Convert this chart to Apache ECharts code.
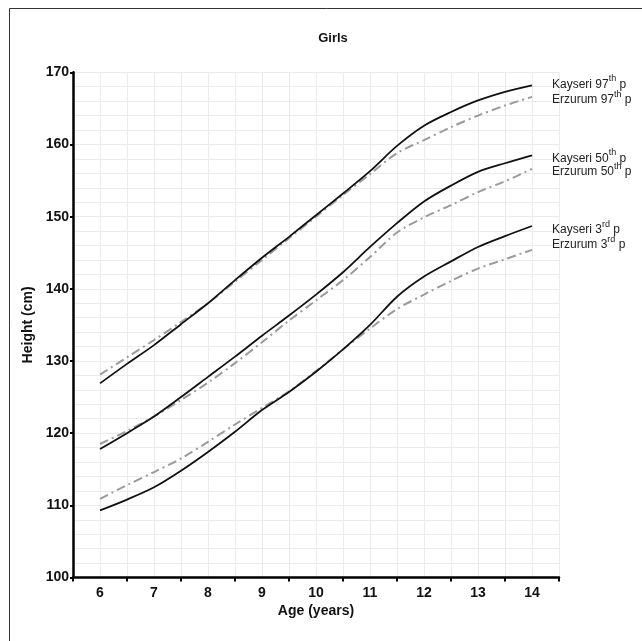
<!DOCTYPE html>
<html><head><meta charset="utf-8">
<script src="https://cdn.jsdelivr.net/npm/echarts@6/dist/echarts.min.js"></script>
<style>html,body{margin:0;padding:0;background:#fff}#c{width:642px;height:641px}</style>
</head><body><div id="c"></div>
<script>
const ages = [6,6.5,7,7.5,8,8.5,9,9.5,10,10.5,11,11.5,12,12.5,13,13.5,14];
const kayseri97 = [126.9,129.6,132.2,135.1,138.0,141.2,144.3,147.2,150.2,153.2,156.3,159.8,162.6,164.5,166.1,167.3,168.2];
const erzurum97 = [128.1,130.5,132.9,135.4,138.0,141.0,144.0,147.0,150.0,153.0,155.9,158.8,160.6,162.4,164.0,165.4,166.6];
const kayseri50 = [117.8,120.0,122.3,125.0,127.8,130.6,133.5,136.3,139.2,142.3,145.8,149.1,152.1,154.3,156.2,157.4,158.5];
const erzurum50 = [118.5,120.3,122.3,124.6,127.0,129.7,132.6,135.6,138.4,141.2,144.4,147.8,149.9,151.6,153.4,154.9,156.6];
const kayseri3  = [109.3,110.8,112.5,114.8,117.4,120.2,123.2,125.7,128.5,131.6,135.0,138.9,141.7,143.8,145.8,147.3,148.7];
const erzurum3  = [110.9,112.8,114.6,116.5,118.8,121.2,123.5,125.8,128.6,131.6,134.5,137.2,139.2,141.1,142.8,144.1,145.4];
const ageLabels = [6,7,8,9,10,11,12,13,14];
const seriesNames = ['Kayseri 97','Erzurum 97','Kayseri 50','Erzurum 50','Kayseri 3','Erzurum 3'];
const seriesSup = ['th','th','th','th','rd','rd'];

const font = '"Liberation Sans Narrow","Liberation Sans",Arial,sans-serif';
const chart = echarts.init(document.getElementById('c'));
const values = [kayseri97, erzurum97, kayseri50, erzurum50, kayseri3, erzurum3];
const labelDy = [-3, 1, 1, 1, 2, -7];
const series = values.map((vals, i) => {
  const kay = i % 2 === 0;
  return {
    name: seriesNames[i], type: 'line', smooth: 0.3, symbol: 'none', xAxisIndex: 0, yAxisIndex: 0,
    data: ages.map((a, j) => [a, vals[j]]),
    lineStyle: kay ? {color: '#111', width: 1.8, type: 'solid'} : {color: '#9b9b9b', width: 2, type: [9, 4, 2, 4]},
    endLabel: {
      show: true, distance: 5, offset: [15, labelDy[i]],
      formatter: () => '{a|' + seriesNames[i] + '}{s|' + seriesSup[i] + '}{a| p}',
      rich: {
        a: {fontFamily: font, fontSize: 12, color: '#222', lineHeight: 16, verticalAlign: 'bottom'},
        s: {fontFamily: font, fontSize: 9, color: '#222', lineHeight: 16, verticalAlign: 'top'}
      }
    },
    emphasis: {disabled: true}, silent: true, z: kay ? 3 : 2
  };
});

chart.setOption({
  animation: false,
  backgroundColor: '#fff',
  title: {text: 'Girls', left: 328, top: 27, textAlign: 'center',
    textStyle: {fontFamily: font, fontWeight: 'bold', fontSize: 13, color: '#111'}},
  graphic: [{type: 'rect', shape: {x: 9.5, y: 8.5, width: 700, height: 700}, style: {fill: null, stroke: '#333', lineWidth: 1}, silent: true}],
  grid: {left: 73, right: 83, top: 72.3, bottom: 63.5, containLabel: false},
  xAxis: [
    {type: 'value', min: 5.5, max: 14.5, interval: 1, position: 'bottom',
     name: 'Age (years)', nameLocation: 'middle', nameGap: 27,
     nameTextStyle: {fontFamily: font, fontWeight: 'bold', fontSize: 14, color: '#111'},
     axisLine: {show: true, lineStyle: {color: '#000', width: 2.5}},
     axisTick: {show: true, length: 4, inside: false, lineStyle: {color: '#000', width: 2}},
     axisLabel: {show: false}, splitLine: {show: false}},
    {type: 'value', min: 5.5, max: 14.5, interval: 0.5, position: 'bottom',
     axisLine: {show: false}, axisTick: {show: false},
     axisLabel: {show: true, margin: 9, fontFamily: font, fontWeight: 'bold', fontSize: 14, color: '#111',
       formatter: v => ageLabels.indexOf(v) >= 0 ? String(v) : ''},
     splitLine: {show: true, lineStyle: {color: '#ebebeb', width: 1}}}
  ],
  yAxis: [
    {type: 'value', min: 100, max: 170, interval: 10,
     name: 'Height (cm)', nameLocation: 'middle', nameGap: 31, nameRotate: 90,
     nameTextStyle: {fontFamily: font, fontWeight: 'bold', fontSize: 14, color: '#111'},
     axisLine: {show: true, lineStyle: {color: '#000', width: 2.5}},
     axisTick: {show: true, length: 3, lineStyle: {color: '#000', width: 2}},
     axisLabel: {margin: 4, fontFamily: font, fontWeight: 'bold', fontSize: 14, color: '#111'},
     splitLine: {show: false}},
    {type: 'value', min: 100, max: 170, interval: 2,
     axisLine: {show: false}, axisTick: {show: false}, axisLabel: {show: false},
     splitLine: {show: true, lineStyle: {color: '#ebebeb', width: 1}}}
  ],
  series: series
});
</script></body></html>
